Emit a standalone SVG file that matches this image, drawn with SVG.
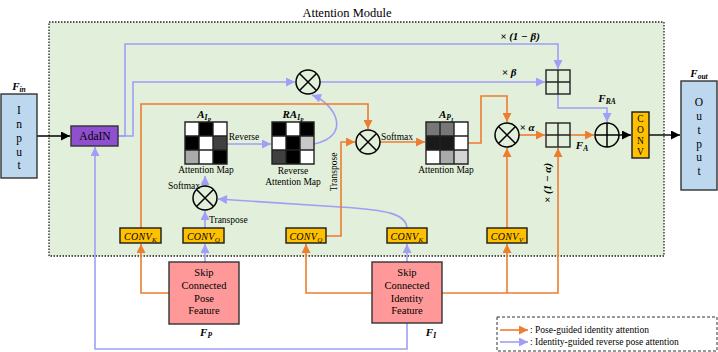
<svg xmlns="http://www.w3.org/2000/svg" width="718" height="352" viewBox="0 0 718 352" font-family="'Liberation Serif', 'Times New Roman', 'DejaVu Serif', serif">
<style>
  text { font-family: "Liberation Serif", "Times New Roman", "DejaVu Serif", serif; fill: #000; }
  .t9 { font-size: 9.5px; }
  .t10 { font-size: 10.5px; }
  .t11 { font-size: 11.5px; }
  .m { font-weight: bold; font-style: italic; font-size: 11px; }
  .cv { font-style: italic; font-size: 10px; letter-spacing: 0.3px; }
  .b { fill: none; stroke: #9f9ff7; stroke-width: 1.6; }
  .o { fill: none; stroke: #ed7d31; stroke-width: 1.6; }
  .k { fill: none; stroke: #000; stroke-width: 1.4; }
  .box { stroke: #333; stroke-width: 1.4; }
  .conv { fill: #ffc000; stroke: #1a1a1a; stroke-width: 1.4; }
  .op { fill: none; stroke: #000; stroke-width: 1.5; }
  .grid { fill: none; stroke: #222; stroke-width: 1.4; }
</style>
<defs>
  <marker id="ab" viewBox="0 0 10 10" refX="10" refY="5" markerWidth="10" markerHeight="9" markerUnits="userSpaceOnUse" orient="auto"><path d="M0,0 L10,5 L0,10 z" fill="#9f9ff7"/></marker>
  <marker id="ao" viewBox="0 0 10 10" refX="10" refY="5" markerWidth="10" markerHeight="9" markerUnits="userSpaceOnUse" orient="auto"><path d="M0,0 L10,5 L0,10 z" fill="#ed7d31"/></marker>
  <marker id="ak" viewBox="0 0 10 10" refX="10" refY="5" markerWidth="10" markerHeight="9" markerUnits="userSpaceOnUse" orient="auto"><path d="M0,0 L10,5 L0,10 z" fill="#000"/></marker>
  <g id="mul"><circle r="12" class="op"/><path d="M-8.5,-8.5 L8.5,8.5 M-8.5,8.5 L8.5,-8.5" class="op"/></g>
  <g id="add"><circle r="12" class="op"/><path d="M-12,0 H12 M0,-12 V12" class="op"/></g>
  <g id="wsum"><rect x="-12" y="-12" width="24" height="24" fill="#e2efda" class="grid"/><path d="M-12,0 H12 M0,-12 V12" class="grid"/></g>
</defs>

<!-- module frame -->
<rect x="49" y="22" width="615" height="234" fill="#e2efda" stroke="#222" stroke-width="1.3" stroke-dasharray="1.5 1.5"/>
<text x="347" y="17" text-anchor="middle" font-size="12.5">Attention Module</text>

<!-- connectors -->
<g id="connectors">
  <!-- identity-guided reverse pose attention (blue) -->
  <path class="b" d="M118,136 H125 V44 H558 V69" marker-end="url(#ab)"/>
  <path class="b" d="M118,136 H133 V82 H295" marker-end="url(#ab)"/>
  <path class="b" d="M320,82 H545" marker-end="url(#ab)"/>
  <path class="b" d="M558,94 V108 H607 V122" marker-end="url(#ab)"/>
  <path class="b" d="M314,144 C352,136 336,104 312,95" marker-end="url(#ab)"/>
  <path class="b" d="M227,144 H271" marker-end="url(#ab)"/>
  <path class="b" d="M205,262 V244" marker-end="url(#ab)"/>
  <path class="b" d="M205,228 V211" marker-end="url(#ab)"/>
  <path class="b" d="M205,186 V176" marker-end="url(#ab)"/>
  <path class="b" d="M407,228 C406,214 388,210 340,207 L218,199" marker-end="url(#ab)"/>
  <path class="b" d="M407,262 V244" marker-end="url(#ab)"/>
  <path class="b" d="M407,323 V349 H95 V147" marker-end="url(#ab)"/>

  <!-- pose-guided identity attention (orange) -->
  <path class="o" d="M170,293 H141 V244" marker-end="url(#ao)"/>
  <path class="o" d="M141,228 V104 H368 V129" marker-end="url(#ao)"/>
  <path class="o" d="M326,236 H341 V142 H355" marker-end="url(#ao)"/>
  <path class="o" d="M380,142 H425" marker-end="url(#ao)"/>
  <path class="o" d="M467,143 H481 V96 H507 V122" marker-end="url(#ao)"/>
  <path class="o" d="M507,228 V148" marker-end="url(#ao)"/>
  <path class="o" d="M519,135 H545" marker-end="url(#ao)"/>
  <path class="o" d="M570,135 H594" marker-end="url(#ao)"/>
  <path class="o" d="M372,293 H306 V244" marker-end="url(#ao)"/>
  <path class="o" d="M442,293 H558 V148" marker-end="url(#ao)"/>
  <path class="o" d="M507,293 V244" marker-end="url(#ao)"/>

  <!-- main feature path (black) -->
  <path class="k" d="M37,136 H70" marker-end="url(#ak)"/>
  <path class="k" d="M619,135 H631" marker-end="url(#ak)"/>
  <path class="k" d="M649,135 H680" marker-end="url(#ak)"/>
</g>

<!-- input -->
<g id="input">
  <rect x="1" y="94" width="36" height="84" fill="#bdd7ee" class="box"/>
  <text x="19" y="90" text-anchor="middle" class="m">F<tspan font-size="7.5" dy="2">in</tspan></text>
  <g class="t11" text-anchor="middle">
    <text x="19" y="114">I</text><text x="19" y="128">n</text><text x="19" y="142">p</text>
    <text x="19" y="156">u</text><text x="19" y="169">t</text>
  </g>
</g>

<g id="adain">
  <rect x="71" y="126" width="47" height="20" fill="#8f4fcf" class="box"/>
  <text x="95" y="140" text-anchor="middle" class="t11">AdaIN</text>
</g>

<!-- convolutions -->
<g id="conv-k-pose"><rect x="120" y="228" width="41" height="15" class="conv"/><text x="140.5" y="239.5" text-anchor="middle" class="cv">CONV<tspan font-size="7" dy="2">K</tspan></text></g>
<g id="conv-q-pose"><rect x="183" y="228" width="41" height="15" class="conv"/><text x="203.5" y="239.5" text-anchor="middle" class="cv">CONV<tspan font-size="7" dy="2">Q</tspan></text></g>
<g id="conv-q-id"><rect x="286" y="228" width="40" height="15" class="conv"/><text x="306" y="239.5" text-anchor="middle" class="cv">CONV<tspan font-size="7" dy="2">Q</tspan></text></g>
<g id="conv-k-id"><rect x="387" y="228" width="40" height="15" class="conv"/><text x="407" y="239.5" text-anchor="middle" class="cv">CONV<tspan font-size="7" dy="2">K</tspan></text></g>
<g id="conv-v-id"><rect x="487" y="228" width="40" height="15" class="conv"/><text x="507" y="239.5" text-anchor="middle" class="cv">CONV<tspan font-size="7" dy="2">V</tspan></text></g>

<!-- skip features -->
<g id="pose-feature">
  <rect x="169" y="262" width="70" height="62" fill="#ff9999" class="box"/>
  <g class="t10" text-anchor="middle">
    <text x="204" y="276">Skip</text><text x="204" y="289">Connected</text>
    <text x="204" y="302">Pose</text><text x="204" y="314">Feature</text>
  </g>
  <text x="206" y="336" text-anchor="middle" class="m">F<tspan font-size="7.5" dy="2">P</tspan></text>
</g>
<g id="identity-feature">
  <rect x="372" y="262" width="70" height="61" fill="#ff9999" class="box"/>
  <g class="t10" text-anchor="middle">
    <text x="407" y="276">Skip</text><text x="407" y="289">Connected</text>
    <text x="407" y="302">Identity</text><text x="407" y="314">Feature</text>
  </g>
  <text x="431" y="336" text-anchor="middle" class="m">F<tspan font-size="7.5" dy="2">I</tspan></text>
</g>

<!-- pose attention map -->
<g id="map-a-ip">
  <rect x="185" y="122" width="14" height="14" fill="#fff"/><rect x="199" y="122" width="14" height="14" fill="#000"/><rect x="213" y="122" width="14" height="14" fill="#fff"/>
  <rect x="185" y="136" width="14" height="14" fill="#000"/><rect x="199" y="136" width="14" height="14" fill="#fff"/><rect x="213" y="136" width="14" height="14" fill="#404040"/>
  <rect x="185" y="150" width="14" height="14" fill="#aaa"/><rect x="199" y="150" width="14" height="14" fill="#fff"/><rect x="213" y="150" width="14" height="14" fill="#000"/>
  <path class="grid" d="M185,122 h42 v42 h-42 z M199,122 V164 M213,122 V164 M185,136 H227 M185,150 H227"/>
  <text x="204" y="118" text-anchor="middle" class="m">A<tspan font-size="7.5" dy="2">I</tspan><tspan font-size="5.5" dy="2">P</tspan></text>
  <text x="206" y="173" text-anchor="middle" class="t9">Attention Map</text>
  <text x="244" y="140" text-anchor="middle" class="t9">Reverse</text>
</g>

<g id="map-ra-ip">
  <rect x="272" y="122" width="14" height="14" fill="#000"/><rect x="286" y="122" width="14" height="14" fill="#fff"/><rect x="300" y="122" width="14" height="14" fill="#000"/>
  <rect x="272" y="136" width="14" height="14" fill="#fff"/><rect x="286" y="136" width="14" height="14" fill="#000"/><rect x="300" y="136" width="14" height="14" fill="#c8c8c8"/>
  <rect x="272" y="150" width="14" height="14" fill="#404040"/><rect x="286" y="150" width="14" height="14" fill="#000"/><rect x="300" y="150" width="14" height="14" fill="#fff"/>
  <path class="grid" d="M272,122 h42 v42 h-42 z M286,122 V164 M300,122 V164 M272,136 H314 M272,150 H314"/>
  <text x="293" y="118" text-anchor="middle" class="m">RA<tspan font-size="7.5" dy="2">I</tspan><tspan font-size="5.5" dy="2">P</tspan></text>
  <text x="293" y="174" text-anchor="middle" class="t9">Reverse</text>
  <text x="293" y="185" text-anchor="middle" class="t9">Attention Map</text>
</g>

<g id="map-a-pi">
  <rect x="426" y="122" width="14" height="14" fill="#777"/><rect x="440" y="122" width="14" height="14" fill="#777"/><rect x="454" y="122" width="14" height="14" fill="#fff"/>
  <rect x="426" y="136" width="14" height="14" fill="#1a1a1a"/><rect x="440" y="136" width="14" height="14" fill="#1a1a1a"/><rect x="454" y="136" width="14" height="14" fill="#fff"/>
  <rect x="426" y="150" width="14" height="14" fill="#fff"/><rect x="440" y="150" width="14" height="14" fill="#aaa"/><rect x="454" y="150" width="14" height="14" fill="#d4d4d4"/>
  <path class="grid" d="M426,122 h42 v42 h-42 z M440,122 V164 M454,122 V164 M426,136 H468 M426,150 H468"/>
  <text x="446" y="118" text-anchor="middle" class="m">A<tspan font-size="7.5" dy="2">P</tspan><tspan font-size="5.5" dy="2">I</tspan></text>
  <text x="446" y="173" text-anchor="middle" class="t9">Attention Map</text>
</g>

<!-- operators -->
<g id="mul-pose"><use href="#mul" x="205" y="198"/>
  <text x="184" y="189" text-anchor="middle" class="t9">Softmax</text>
  <text x="209" y="223" class="t9">Transpose</text></g>
<g id="mul-reverse"><use href="#mul" x="308" y="82"/></g>
<g id="mul-id"><use href="#mul" x="368" y="142"/>
  <text x="397" y="140" text-anchor="middle" class="t9">Softmax</text>
  <text transform="translate(337,172) rotate(-90)" text-anchor="middle" class="t9">Transpose</text></g>
<g id="mul-value"><use href="#mul" x="507" y="135"/>
  <text x="527" y="131" text-anchor="middle" class="m">× α</text></g>
<g id="wsum-beta"><use href="#wsum" x="558" y="82"/>
  <text x="520" y="40" text-anchor="middle" class="m">× (1 − β)</text>
  <text x="509" y="76" text-anchor="middle" class="m">× β</text></g>
<g id="wsum-alpha"><use href="#wsum" x="558" y="135"/>
  <text transform="translate(551,183) rotate(-90)" text-anchor="middle" class="m">× (1 − α)</text>
  <text x="582" y="149" text-anchor="middle" class="m">F<tspan font-size="7.5" dy="2">A</tspan></text></g>
<g id="add-out"><use href="#add" x="607" y="135"/>
  <text x="607" y="102" text-anchor="middle" class="m">F<tspan font-size="7.5" dy="2">RA</tspan></text></g>

<g id="conv-out">
  <rect x="632" y="112" width="17" height="46" class="conv"/>
  <g class="t9" text-anchor="middle">
    <text x="640.5" y="122">C</text><text x="640.5" y="133">O</text><text x="640.5" y="144">N</text><text x="640.5" y="155">V</text>
  </g>
</g>

<g id="output">
  <rect x="681" y="81" width="36" height="109" fill="#bdd7ee" class="box"/>
  <text x="699" y="77" text-anchor="middle" class="m">F<tspan font-size="7.5" dy="2">out</tspan></text>
  <g class="t11" text-anchor="middle">
    <text x="699" y="106">O</text><text x="699" y="120">u</text><text x="699" y="134">t</text>
    <text x="699" y="148">p</text><text x="699" y="161">u</text><text x="699" y="175">t</text>
  </g>
</g>

<!-- legend -->
<g id="legend">
  <rect x="497" y="317" width="220" height="34" fill="#fff" stroke="#333" stroke-width="1" stroke-dasharray="3 2"/>
  <path class="o" d="M500,330 H528" marker-end="url(#ao)"/>
  <path class="b" d="M500,342 H528" marker-end="url(#ab)"/>
  <text x="530" y="333" class="t9">: Pose-guided identity attention</text>
  <text x="530" y="345" class="t9">: Identity-guided reverse pose attention</text>
</g>
</svg>
